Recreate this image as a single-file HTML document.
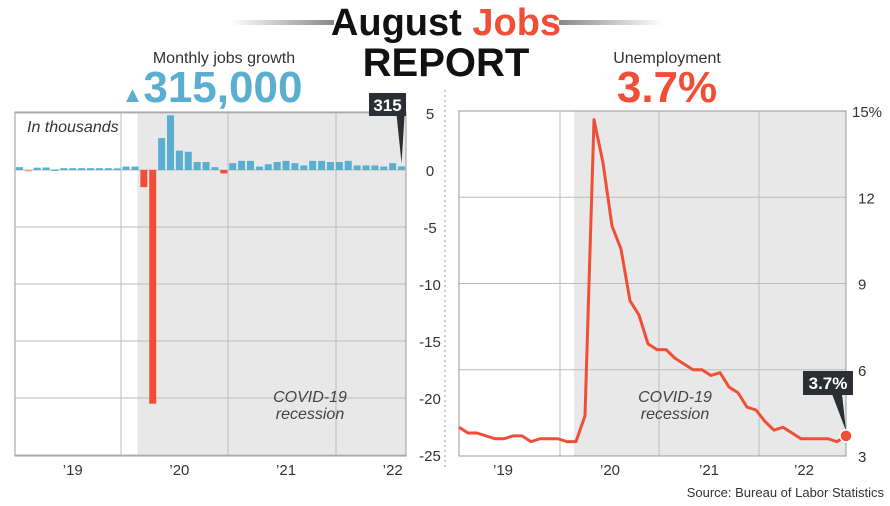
<!DOCTYPE html>
<html><head><meta charset="utf-8">
<style>
body{margin:0;background:#fff;}
svg text{font-family:"Liberation Sans",sans-serif;}
</style></head>
<body>
<svg id="c" width="890" height="501" viewBox="0 0 890 501" xmlns="http://www.w3.org/2000/svg">
<defs>
<linearGradient id="gl" x1="0" x2="1"><stop offset="0" stop-color="#fff"/><stop offset="1" stop-color="#888"/></linearGradient>
<linearGradient id="gr" x1="0" x2="1"><stop offset="0" stop-color="#888"/><stop offset="1" stop-color="#fff"/></linearGradient>
</defs>
<rect x="230" y="20" width="104" height="5" fill="url(#gl)"/>
<rect x="559" y="20" width="104" height="5" fill="url(#gr)"/>
<text x="446" y="35" text-anchor="middle" font-size="38" font-weight="bold" fill="#111">August <tspan fill="#f04e37">Jobs</tspan></text>
<text x="446" y="76" text-anchor="middle" font-size="40" font-weight="bold" fill="#111">REPORT</text>
<text x="224" y="63" text-anchor="middle" font-size="16" fill="#333">Monthly jobs growth</text>
<text x="212" y="102" text-anchor="middle" font-size="44" font-weight="bold" fill="#5aaed0"><tspan font-size="22">▲</tspan>315,000</text>
<text x="667" y="63" text-anchor="middle" font-size="16" fill="#333">Unemployment</text>
<text x="667" y="102" text-anchor="middle" font-size="44" font-weight="bold" fill="#f04e37">3.7%</text>
<line x1="445" y1="90" x2="445" y2="470" stroke="#999" stroke-dasharray="2,3"/>
<g id="left"></g>
<g id="right"></g>
<text x="884" y="497" text-anchor="end" font-size="13" fill="#333">Source: Bureau of Labor Statistics</text>
</svg>
<script>
const jobs=[0.25,-0.1,0.2,0.22,0.05,0.16,0.16,0.16,0.16,0.16,0.16,0.14,0.3,0.3,-1.5,-20.5,2.8,4.8,1.7,1.6,0.7,0.7,0.25,-0.3,0.6,0.8,0.8,0.3,0.5,0.7,0.8,0.6,0.4,0.8,0.8,0.7,0.7,0.8,0.4,0.4,0.4,0.3,0.6,0.315];
const jobTicks=[5,0,-5,-10,-15,-20,-25];
const unemp=[4.0,3.8,3.8,3.7,3.6,3.6,3.7,3.7,3.5,3.6,3.6,3.6,3.5,3.5,4.4,14.7,13.2,11.0,10.2,8.4,7.9,6.9,6.7,6.7,6.4,6.2,6.0,6.0,5.8,5.9,5.4,5.2,4.7,4.6,4.2,3.9,4.0,3.8,3.6,3.6,3.6,3.6,3.5,3.7];
const unempTicks=[15,12,9,6,3];
const yearLabels=["’19","’20","’21","’22"];
const NS="http://www.w3.org/2000/svg";
function mk(p,t,a){const e=document.createElementNS(NS,t);for(const k in a)e.setAttribute(k,a[k]);p.appendChild(e);return e;}
// LEFT
const L=document.getElementById('left');
const lx0=15,lx1=406,ly=v=>170-v*11.4;
const lstep=(lx1-lx0)/jobs.length;
const lx=i=>lx0+lstep*i+lstep/2;
mk(L,'rect',{x:lx0+lstep*14-2,y:112,width:lx1-(lx0+lstep*14-2),height:344,fill:'#e8e8e8'});
jobTicks.forEach(t=>{const g=mk(L,'line',{x1:lx0,x2:lx1,y1:ly(t),y2:ly(t),stroke:'#bbb'});


const tx=mk(L,'text',{x:430,y:ly(t)+6,'text-anchor':'middle','font-size':15,fill:'#333'});tx.textContent=t;

});
[121,228,336].forEach(x=>mk(L,'line',{x1:x,x2:x,y1:112,y2:456,stroke:'#bbb'}));
yearLabels.forEach((s,i)=>{const t=mk(L,'text',{x:lx(6+12*i),y:475,'text-anchor':'middle','font-size':15,fill:'#333'});t.textContent=s;

});
mk(L,'rect',{x:lx0,y:112,width:lx1-lx0,height:344,fill:'none',stroke:'#999'});
jobs.forEach((v,i)=>{const y0=ly(0),y1=ly(v);const r=mk(L,'rect',{x:lx(i)-3.5,y:Math.min(y0,y1),width:7,height:Math.max(1.5,Math.abs(y1-y0)),fill:v<0?(v>-0.2?'#f4a58f':'#f04e37'):'#5aaed0'});

});
let t=mk(L,'text',{x:27,y:132,'font-size':16,'font-style':'italic',fill:'#333'});t.textContent='In thousands';

t=mk(L,'text',{x:310,y:402,'text-anchor':'middle','font-size':16,'font-style':'italic',fill:'#444'});t.textContent='COVID-19';

t=mk(L,'text',{x:310,y:419,'text-anchor':'middle','font-size':16,'font-style':'italic',fill:'#444'});t.textContent='recession';
const lastX=lx(jobs.length-1),lastY=ly(jobs[jobs.length-1]);
mk(L,'polygon',{points:`${lastX-5},115 ${lastX+3},115 ${lastX},${lastY-3}`,fill:'#2b2f33'});
mk(L,'rect',{x:369,y:93,width:37,height:23,fill:'#2b2f33'});
t=mk(L,'text',{x:387.5,y:111,'text-anchor':'middle','font-size':17,'font-weight':'bold',fill:'#fff'});t.textContent=Math.round(jobs[jobs.length-1]*1000);

// RIGHT
const R=document.getElementById('right');
const rx0=459,rx1=846,ry=v=>456-(v-3)*28.75;
const rx=i=>rx0+(rx1-rx0)*i/(unemp.length-1);
mk(R,'rect',{x:574,y:111,width:rx1-574,height:345,fill:'#e8e8e8'});
unempTicks.forEach(v=>{const g=mk(R,'line',{x1:rx0,x2:rx1,y1:ry(v),y2:ry(v),stroke:'#bbb'});


const tx=mk(R,'text',{x:v===15?852:858,y:ry(v)+6,'font-size':15,fill:'#333'});tx.textContent=v===15?'15%':v;

});
[560,659,759].forEach(x=>mk(R,'line',{x1:x,x2:x,y1:111,y2:456,stroke:'#bbb'}));
[503,610,709,804].forEach((x,i)=>{const t2=mk(R,'text',{x:x,y:475,'text-anchor':'middle','font-size':15,fill:'#333'});t2.textContent=yearLabels[i];

});
mk(R,'rect',{x:rx0,y:111,width:rx1-rx0,height:345,fill:'none',stroke:'#999'});
const line=mk(R,'polyline',{points:unemp.map((v,i)=>rx(i)+','+ry(v)).join(' '),fill:'none',stroke:'#f04e37','stroke-width':3,'stroke-linejoin':'round'});


t=mk(R,'text',{x:675,y:402,'text-anchor':'middle','font-size':16,'font-style':'italic',fill:'#444'});t.textContent='COVID-19';

t=mk(R,'text',{x:675,y:419,'text-anchor':'middle','font-size':16,'font-style':'italic',fill:'#444'});t.textContent='recession';
const ex=rx(unemp.length-1),ey=ry(unemp[unemp.length-1]);
mk(R,'polygon',{points:`${ex-14},394 ${ex-4},394 ${ex},${ey-5}`,fill:'#2b2f33'});
mk(R,'rect',{x:803,y:371,width:50,height:24,fill:'#2b2f33'});
t=mk(R,'text',{x:828,y:389,'text-anchor':'middle','font-size':17,'font-weight':'bold',fill:'#fff'});t.textContent=unemp[unemp.length-1]+'%';

const d=mk(R,'circle',{cx:ex,cy:ey,r:6,fill:'#f04e37',stroke:'#fff','stroke-width':1.5});


</script>
</body></html>
